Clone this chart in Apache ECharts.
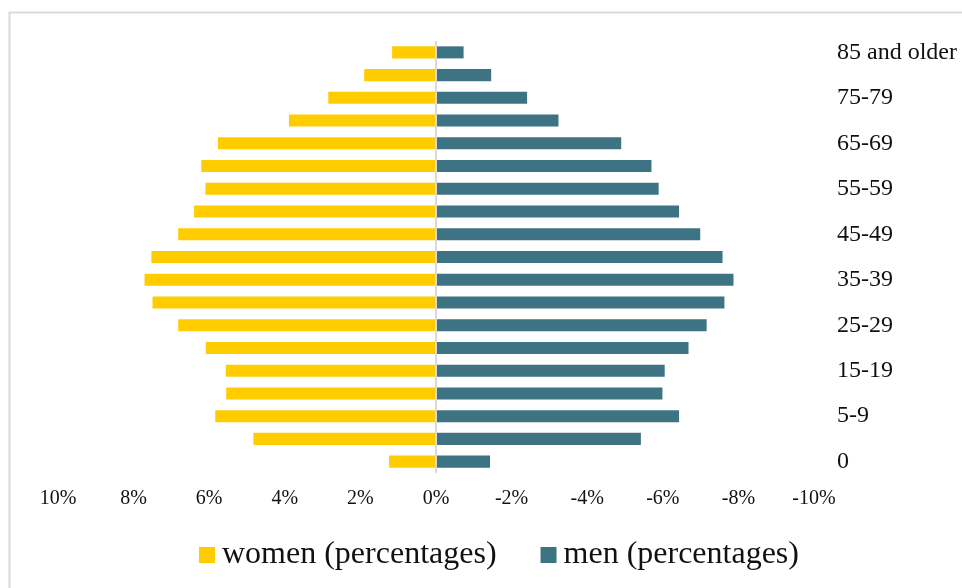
<!DOCTYPE html>
<html>
<head>
<meta charset="utf-8">
<script src="https://cdn.jsdelivr.net/npm/echarts@6/dist/echarts.min.js"></script>
<style>
  html, body { margin: 0; padding: 0; background: #fff; }
  #chart { width: 962px; height: 588px; }
</style>
</head>
<body>
<div id="chart"></div>
<script>
// age groups, bottom to top
const ageGroups = [
  '0', '1-4', '5-9', '10-14', '15-19', '20-24', '25-29', '30-34', '35-39', '40-44',
  '45-49', '50-54', '55-59', '60-64', '65-69', '70-74', '75-79', '80-84', '85 and older'
]
// women plotted as positive (left side, axis inverted)
const women = [1.24, 4.83, 5.84, 5.55, 5.56, 6.09, 6.82, 7.50, 7.71, 7.53,
  6.82, 6.40, 6.10, 6.21, 5.77, 3.89, 2.85, 1.90, 1.16]
// men plotted as negative (right side)
const men = [-1.43, -5.42, -6.43, -5.99, -6.05, -6.68, -7.16, -7.63, -7.87, -7.58,
  -6.99, -6.43, -5.89, -5.70, -4.90, -3.24, -2.41, -1.46, -0.73]

const font = 'Liberation Serif, Times New Roman, serif'
const chart = echarts.init(document.getElementById('chart'))

chart.setOption({
  backgroundColor: '#fff',
  animation: false,
  textStyle: { fontFamily: font, color: '#111' },
  graphic: [{
    type: 'rect',
    shape: { x: 9.5, y: 12.5, width: 1000, height: 620 },
    style: { fill: 'none', stroke: '#d9d9d9', lineWidth: 2 },
    silent: true
  }],
  grid: { left: 58, right: 148, top: 41, bottom: 115 },
  legend: {
    top: 534,
    left: 194,
    itemWidth: 16,
    itemHeight: 16,
    itemGap: 44,
    icon: 'rect',
    textStyle: { fontFamily: font, fontSize: 32, color: '#111', padding: [0, 0, 0, 2] },
    data: ['women (percentages)', 'men (percentages)']
  },
  xAxis: {
    type: 'value',
    inverse: true,
    min: -10,
    max: 10,
    interval: 2,
    axisLine: { show: false },
    axisTick: { show: false },
    splitLine: { show: false },
    axisLabel: { fontFamily: font, fontSize: 20, color: '#111', margin: 16, formatter: v => v + '%' }
  },
  yAxis: {
    type: 'category',
    data: ageGroups,
    position: 'right',
    axisLine: { show: false },
    axisTick: { show: false },
    axisLabel: { interval: 1, fontFamily: font, fontSize: 24, color: '#111', margin: 23 }
  },
  series: [
    {
      name: 'women (percentages)',
      type: 'bar',
      data: women,
      barWidth: '53%',
      barGap: '-100%',
      itemStyle: { color: '#FFCC00' },
      markLine: {
        silent: true,
        symbol: 'none',
        label: { show: false },
        lineStyle: { color: '#d9d9d9', width: 2, type: 'solid' },
        data: [{ xAxis: 0 }]
      }
    },
    {
      name: 'men (percentages)',
      type: 'bar',
      data: men,
      barWidth: '53%',
      barGap: '-100%',
      itemStyle: { color: '#3E7384' }
    }
  ]
})
</script>
</body>
</html>
